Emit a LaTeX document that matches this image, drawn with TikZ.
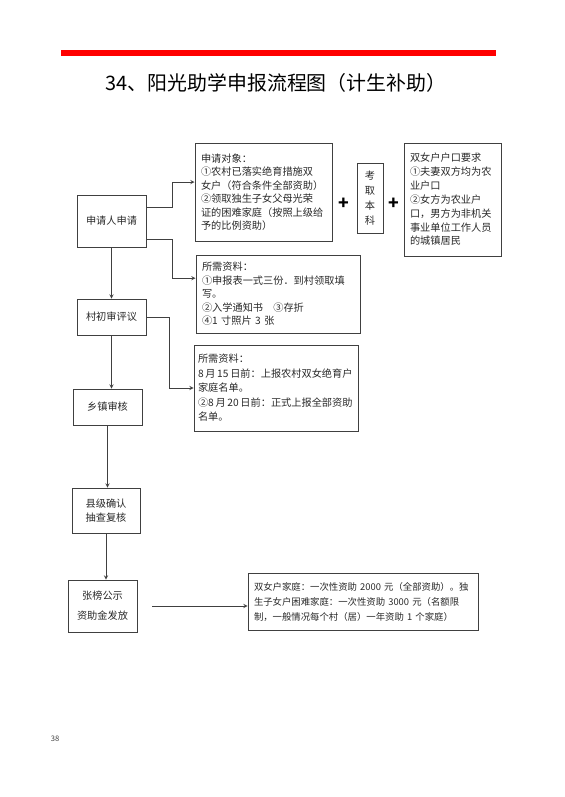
\documentclass[tikz,border=0pt]{standalone}
\usepackage{fontspec}
\setmainfont{Noto Sans CJK SC}
\usetikzlibrary{calc}
\definecolor{boxgray}{RGB}{64,64,64}
\definecolor{textgray}{RGB}{40,40,40}

\begin{document}
\begin{tikzpicture}[x=0.03cm, y=-0.03cm, >=stealth,
    flow/.style={draw=boxgray, line width=0.8pt, align=center, inner sep=2pt, text=textgray, font=\fontsize{8.7}{12}\selectfont},
    note/.style={draw=boxgray, line width=0.8pt, align=left, inner xsep=0.18cm, text=textgray, font=\fontsize{8.7}{11.5}\selectfont},
    link/.style={draw=boxgray, line width=0.6pt, ->}]
    \useasboundingbox (0,0) rectangle (564,797);
    % heading
    \draw[red, line width=5pt] (61,53) -- (496,53);
    \node[font=\fontsize{17}{17}\selectfont] (title) at (276,83) {34、阳光助学申报流程图（计生补助）};
    % flow boxes on the left
    \node[flow, minimum width=2.07cm, minimum height=1.56cm] (apply) at (111.5,221) {申请人申请};
    \node[flow, minimum width=2.07cm, minimum height=1.08cm] (village) at (111.5,317) {村初审评议};
    \node[flow, minimum width=2.07cm, minimum height=1.08cm] (town) at (107.5,407) {乡镇审核};
    \node[flow, minimum width=2.04cm, minimum height=1.35cm, font=\fontsize{8.7}{12.5}\selectfont] (county) at (106,510.5) {县级确认\\抽查复核};
    \node[flow, minimum width=2.07cm, minimum height=1.56cm, font=\fontsize{8.7}{17}\selectfont] (publish) at (102.5,606) {张榜公示\\资助金发放};
    % notes on the right
    \node[note, text width=3.75cm, minimum width=4.11cm, minimum height=2.94cm] (target) at (263.5,192) {申请对象：\\①农村已落实绝育措施双\\女户（符合条件全部资助）\\②领取独生子女父母光荣\\证的困难家庭（按照上级给\\予的比例资助）};
    \node[font=\fontsize{15}{15}\selectfont\bfseries] (plusa) at (344,204) {+};
    \node[note, align=center, inner xsep=0pt, minimum width=0.78cm, minimum height=2.1cm, font=\fontsize{8.7}{12.8}\selectfont] (exam) at (370,198) {考\\取\\本\\科};
    \node[font=\fontsize{15}{15}\selectfont\bfseries] (plusb) at (394,204) {+};
    \node[note, text width=2.55cm, minimum width=2.91cm, minimum height=3.39cm, font=\fontsize{8.7}{11.8}\selectfont] (hukou) at (452.5,199.5) {双女户户口要求\\①夫妻双方均为农\\业户口\\②女方为农业户\\口，男方为非机关\\事业单位工作人员\\的城镇居民};
    \node[note, text width=4.56cm, minimum width=4.92cm, minimum height=2.34cm] (docsa) at (278,294) {所需资料：\\①申报表一式三份．到村领取填\\写。\\②入学通知书\quad ③存折\\④1 寸照片 3 张};
    \node[note, inner xsep=0.12cm, text width=4.68cm, minimum width=4.92cm, minimum height=2.58cm, font=\fontsize{8.7}{12.4}\selectfont] (docsb) at (276,388) {所需资料：\\8\,月\,15\,日前：上报农村双女绝育户\\家庭名单。\\②8\,月\,20\,日前：正式上报全部资助\\名单。};
    \node[note, text width=6.54cm, minimum width=6.9cm, minimum height=1.71cm, font=\fontsize{8}{12.8}\selectfont] (grant) at (363,601.5) {双女户家庭：一次性资助 2000 元（全部资助）。独\\生子女户困难家庭：一次性资助 3000 元（名额限\\制，一般情况每个村（居）一年资助 1 个家庭）};
    % connectors
    \draw[link] (apply.south) -- (apply.south |- village.north);
    \draw[link] (village.south) -- (village.south |- town.north);
    \draw[link] (town.south) -- (town.south |- county.north);
    \draw[link] (county.south) -- (county.south |- publish.north);
    \draw[link] ($(apply.north east)!0.25!(apply.south east)$) -- ++(26,0) |- ($(target.north west)!0.4!(target.south west)$);
    \draw[link] ($(apply.north east)!0.85!(apply.south east)$) -- ++(26,0) |- ($(docsa.north west)!0.3!(docsa.south west)$);
    \draw[link] (village.east) -- ++(23,0) |- (docsb.west);
    \draw[link] ($(publish.east)+(15,0)$) -- (publish.east -| grant.west);
    % page number
    \node[text=darkgray, font=\fontsize{6.5}{6.5}\selectfont] (page) at (55,739) {38};
\end{tikzpicture}
\end{document}
